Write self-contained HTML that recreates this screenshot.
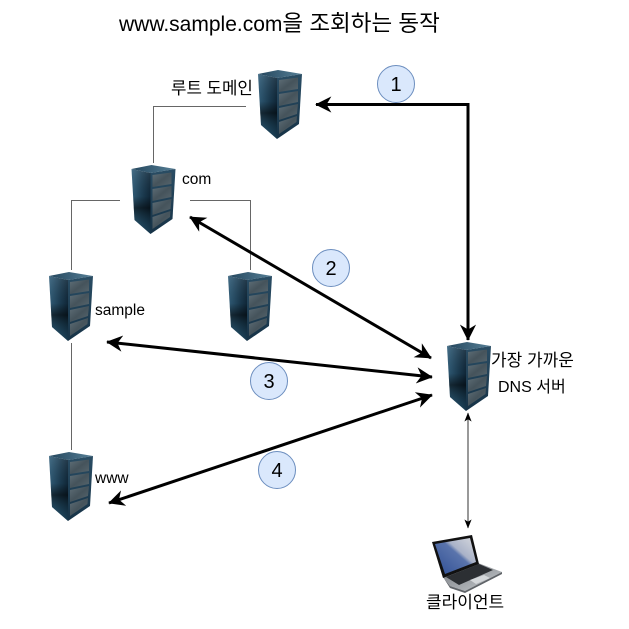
<!DOCTYPE html>
<html><head><meta charset="utf-8">
<style>
html,body{margin:0;padding:0;background:#fff}
svg{display:block}
text{font-family:"Liberation Sans","Noto Sans CJK KR",sans-serif;fill:#000}
</style></head>
<body>
<svg width="629" height="629" viewBox="0 0 629 629" xmlns="http://www.w3.org/2000/svg">
<defs>
<linearGradient id="lf" x1="0" y1="0" x2="1" y2="0"><stop offset="0" stop-color="#33607c"/><stop offset=".6" stop-color="#1c3d53"/><stop offset="1" stop-color="#10283a"/></linearGradient>
<linearGradient id="lf2" x1="0" y1="0" x2="0" y2="1"><stop offset="0" stop-color="#fff" stop-opacity=".1"/><stop offset=".42" stop-color="#000" stop-opacity=".05"/><stop offset=".6" stop-color="#000" stop-opacity=".55"/><stop offset="1" stop-color="#2a6584" stop-opacity=".25"/></linearGradient>
<linearGradient id="tp" x1="0" y1="0" x2="1" y2="0"><stop offset="0" stop-color="#24465d"/><stop offset="1" stop-color="#567f96"/></linearGradient>
<linearGradient id="fr" x1="0" y1="0" x2="0" y2="1"><stop offset="0" stop-color="#2a4d64"/><stop offset="1" stop-color="#163246"/></linearGradient>
<linearGradient id="pn" x1="0" y1="0" x2="1" y2="1"><stop offset="0" stop-color="#5f6f78"/><stop offset=".5" stop-color="#45535b"/><stop offset="1" stop-color="#57666e"/></linearGradient>
<linearGradient id="scr" x1="0" y1="1" x2="1" y2="0"><stop offset="0" stop-color="#2f4f94"/><stop offset=".55" stop-color="#5a74ac"/><stop offset=".62" stop-color="#a9b2c8"/><stop offset="1" stop-color="#d7d9de"/></linearGradient>
<linearGradient id="bs" x1="0" y1="0" x2="1" y2="1"><stop offset="0" stop-color="#777b80"/><stop offset="1" stop-color="#c6cace"/></linearGradient>
<g id="srv">
<polygon points="0,4 20,0 44,4 19,8" fill="url(#tp)"/>
<polygon points="0,4 19,8 19,69 3,55" fill="url(#lf)"/>
<polygon points="0,4 19,8 19,69 3,55" fill="url(#lf2)"/>
<polygon points="19,8 44,4 41,54 19,69" fill="url(#fr)"/>
<polygon points="21,10 40,7.500 40,19 21,22" fill="url(#pn)"/>
<polygon points="21,24 40,21 40,32 21,36" fill="url(#pn)"/>
<polygon points="21,38 40,34 39,44 21,50" fill="url(#pn)"/>
<polygon points="21,52 39,46 38.500,52 21,64" fill="url(#pn)"/>
</g>
<marker id="a" viewBox="0 0 10 10" refX="9.500" refY="5" markerWidth="5.400" markerHeight="5.400" orient="auto-start-reverse" markerUnits="strokeWidth"><path d="M0,0 L10,5 L0,10 L3,5 Z" fill="#000"/></marker>
<marker id="b" viewBox="0 0 10 10" refX="9.500" refY="5" markerWidth="9" markerHeight="9" orient="auto-start-reverse" markerUnits="strokeWidth"><path d="M0,1 L10,5 L0,9 L2.500,5 Z" fill="#000"/></marker>
</defs>

<g fill="none" stroke="#666" stroke-width="1">
<path d="M153.500,163 V106.500 H246"/>
<path d="M120,200.500 H71.500 V270"/>
<path d="M190,200.500 H250.500 V270"/>
<path d="M71.500,343 V450"/>
</g>

<use href="#srv" x="258" y="70"/>
<use href="#srv" x="131.500" y="165"/>
<use href="#srv" x="49" y="272"/>
<use href="#srv" x="228" y="272"/>
<use href="#srv" x="49" y="452"/>
<use href="#srv" x="447" y="342"/>

<g fill="none" stroke="#000" stroke-width="3">
<path d="M316,104.500 H468 V340" marker-start="url(#a)" marker-end="url(#a)"/>
<path d="M190,217 L431,358" marker-start="url(#a)" marker-end="url(#a)"/>
<path d="M107,342 L432,377" marker-start="url(#a)" marker-end="url(#a)"/>
<path d="M109,503 L432,395" marker-start="url(#a)" marker-end="url(#a)"/>
</g>
<path d="M468,413 V528" fill="none" stroke="#333" stroke-width="1" marker-start="url(#b)" marker-end="url(#b)"/>

<g fill="#dae8fc" stroke="#6c8ebf" stroke-width="1">
<circle cx="396" cy="84" r="18.500"/>
<circle cx="331" cy="268" r="18.500"/>
<circle cx="269" cy="381" r="18.500"/>
<circle cx="277" cy="470" r="18.500"/>
</g>
<g font-size="20" text-anchor="middle">
<text x="396" y="91">1</text>
<text x="331" y="275">2</text>
<text x="269" y="388">3</text>
<text x="277" y="477">4</text>
</g>

<!-- laptop -->
<polygon points="443,577 478,563 502,572 465,591 450,586" fill="url(#bs)"/>
<polygon points="443,577 450,586 465,591 502,572 502,574 465,593 450,588" fill="#5f6368"/>
<polygon points="432,542 472,535 479,564 443,578" fill="#111"/>
<polygon points="435,544 470,538 476,562 445,574" fill="url(#scr)"/>
<polygon points="446,577 479,564 493,570 459,585" fill="#2c2f33"/>
<polygon points="470,580 484,575 490,578 476,584" fill="#d4d7da"/>

<text x="119" y="31" font-size="21"><tspan>www.sample.com</tspan><tspan font-size="22.500">을 조회하는 동작</tspan></text>
<text x="171" y="94" font-size="16.800">루트 도메인</text>
<text x="182" y="184" font-size="15.500">com</text>
<text x="95" y="315" font-size="15.500">sample</text>
<text x="95" y="483" font-size="15.500">www</text>
<text x="491" y="366" font-size="17">가장 가까운</text>
<text x="498" y="392" font-size="16">DNS 서버</text>
<text x="426" y="608" font-size="17">클라이언트</text>
</svg>
</body></html>
